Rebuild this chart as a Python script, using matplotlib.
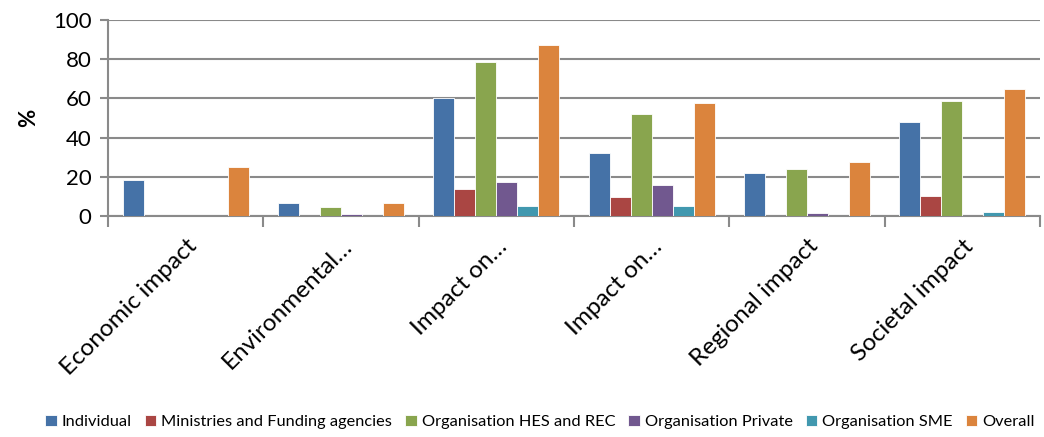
import matplotlib
matplotlib.use("Agg")
import matplotlib.pyplot as plt
import numpy as np

categories = ["Economic impact", "Environmental\u2026", "Impact on\u2026", "Impact on\u2026",
              "Regional impact", "Societal impact"]
series_names = ["Individual", "Ministries and Funding agencies", "Organisation HES and REC",
                "Organisation Private", "Organisation SME", "Overall"]
individual = [18.5, 6.5, 60.0, 32.3, 21.8, 48.0]
ministries = [0, 0, 13.6, 9.7, 0, 10.2]
hes_rec = [0, 4.8, 78.7, 51.9, 24.1, 58.8]
private = [0, 0.8, 17.2, 15.8, 1.5, 0]
sme = [0, 0, 5.3, 4.9, 0, 2.0]
overall = [25.2, 6.6, 87.2, 57.5, 27.7, 64.6]
yticks = [0, 20, 40, 60, 80, 100]

colors = ["#4572A7", "#AA4643", "#89A54E", "#71588F", "#4198AF", "#DB843D"]
data = [individual, ministries, hes_rec, private, sme, overall]

plt.rcParams['font.family'] = ['Lato', 'DejaVu Sans']
fig = plt.figure(figsize=(10.44, 4.37), dpi=100)
ax = fig.add_axes([108/1044, 1-216/437, 932/1044, 196/437])

n = len(categories)
x = np.arange(n)
w = 0.135
for i, (vals, c, name) in enumerate(zip(data, colors, series_names)):
    v = np.array(vals, dtype=float)
    v[v == 0] = np.nan
    ax.bar(x + (i - 2.5) * w, v, width=w, color=c, edgecolor="white", linewidth=0.6, label=name, zorder=3)

ax.set_xlim(-0.5, n - 0.5)
ax.set_ylim(0, 100)
ax.set_yticks(yticks)
ax.tick_params(axis='y', labelsize=16, length=6, color="#8a8a8a", width=1.5, pad=6)
ax.yaxis.grid(True, color="#8a8a8a", linewidth=1.5, zorder=0)
ax.set_axisbelow(True)
for s in ["top", "right"]:
    ax.spines[s].set_visible(False)
for s in ["left", "bottom"]:
    ax.spines[s].set_color("#8a8a8a")
    ax.spines[s].set_linewidth(1.5)

# category boundary ticks
ax.set_xticks(np.arange(-0.5, n, 1.0))
ax.set_xticklabels([])
ax.tick_params(axis='x', length=8, color="#8a8a8a", width=1.5)
ax.set_xticks(x, minor=True)
ax.set_xticklabels(categories, minor=True, rotation=45, ha="right", va="top",
                   rotation_mode="anchor", fontsize=17.5)
ax.tick_params(axis='x', which='minor', length=0, pad=14)

ax.set_ylabel("%", fontsize=16, fontweight="bold", labelpad=10)

handles, labels = ax.get_legend_handles_labels()
fig.legend(handles, labels, loc="center", bbox_to_anchor=(540/1044, 1-422/437), ncol=6,
           frameon=False, fontsize=11.8, handlelength=0.7, handleheight=0.7,
           handletextpad=0.3, columnspacing=0.8)

fig.savefig("out.png", dpi=100)
